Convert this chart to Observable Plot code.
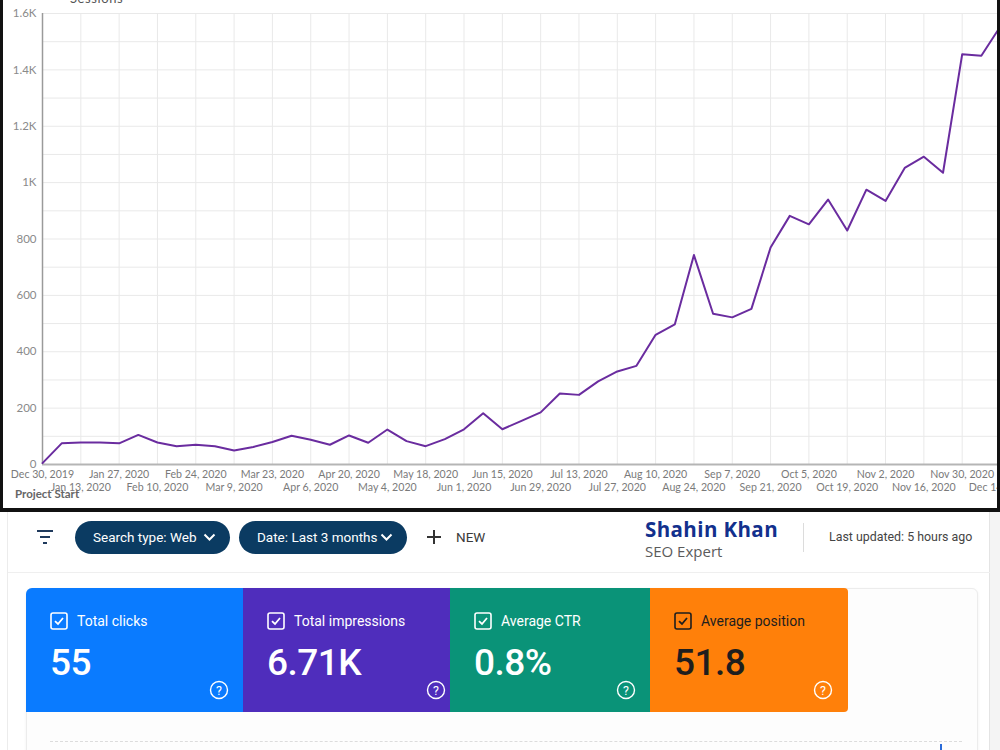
<!DOCTYPE html>
<html>
<head>
<meta charset="utf-8">
<script src="https://cdn.jsdelivr.net/npm/d3@7"></script>
<script src="https://cdn.jsdelivr.net/npm/@observablehq/plot@0.6"></script>
<style>
  html, body { margin: 0; padding: 0; background: #ffffff; }
  body { width: 1000px; height: 750px; overflow: hidden; position: relative; font-family: Roboto, "Noto Sans", sans-serif; }
  .abs { position: absolute; }
  #chartFrame { left: 0; top: 0; width: 1000px; height: 512px; overflow: hidden; background: #fff; }
  #chartFrame svg { position: absolute; left: 0; top: 0; max-width: none !important; }
  .pill { position: absolute; height: 33px; border-radius: 17px; background: #0b3b62; color: #fff; font-size: 13.5px; line-height: 33px; box-sizing: border-box; padding-left: 18px; }
  .pill svg { position: absolute; top: 12px; }
  .tile { position: absolute; top: 588px; height: 124px; color: #fff; }
  .tile .lbl { position: absolute; left: 51px; top: 24px; font-size: 14px; line-height: 18px; }
  .tile .val { position: absolute; left: 24px; top: 53px; font-size: 37px; font-weight: 500; line-height: 44px; letter-spacing: -0.5px; }
  .tile .cb { position: absolute; left: 24px; top: 24px; }
  .tile .help { position: absolute; top: 92px; }
</style>
</head>
<body>
<div id="chartFrame" class="abs">
  <div class="abs" style="left:70px; top:-10px; font-family: Lato, sans-serif; font-size:13px; letter-spacing:0.6px; color:#555;">Sessions</div>
  <div id="chart"></div>
  <div class="abs" style="left:15px; top:487px; font-family: Lato, sans-serif; font-weight:700; font-size:11.5px; color:#666;">Project Start</div>
</div>
<div class="abs" style="left:0; top:0; width:3px; height:512px; background:#111;"></div>
<div class="abs" style="left:997px; top:0; width:3px; height:512px; background:#111;"></div>
<div class="abs" style="left:0; top:508px; width:1000px; height:4px; background:#111;"></div>

<div id="dash"></div>

<script>
// ---- chart data ----
const weekStarts = [
  "2019-12-30","2020-01-06","2020-01-13","2020-01-20","2020-01-27","2020-02-03","2020-02-10","2020-02-17",
  "2020-02-24","2020-03-02","2020-03-09","2020-03-16","2020-03-23","2020-03-30","2020-04-06","2020-04-13",
  "2020-04-20","2020-04-27","2020-05-04","2020-05-11","2020-05-18","2020-05-25","2020-06-01","2020-06-08",
  "2020-06-15","2020-06-22","2020-06-29","2020-07-06","2020-07-13","2020-07-20","2020-07-27","2020-08-03",
  "2020-08-10","2020-08-17","2020-08-24","2020-08-31","2020-09-07","2020-09-14","2020-09-21","2020-09-28",
  "2020-10-05","2020-10-12","2020-10-19","2020-10-26","2020-11-02","2020-11-09","2020-11-16","2020-11-23",
  "2020-11-30","2020-12-07","2020-12-14"
];
const sessions = [
  5, 75, 78, 78, 75, 105, 78, 65,
  70, 65, 50, 62, 80, 102, 88, 70,
  103, 77, 124, 83, 65, 90, 125, 182,
  125, 155, 185, 252, 247, 295, 330, 350,
  460, 497, 743, 535, 522, 552, 770, 882,
  852, 940, 830, 975, 935, 1052, 1092, 1035,
  1455, 1450, 1555
];
const yTickValues = [0, 200, 400, 600, 800, 1000, 1200, 1400, 1600];
const xLabelRow1 = ["2019-12-30","2020-01-27","2020-02-24","2020-03-23","2020-04-20","2020-05-18","2020-06-15","2020-07-13","2020-08-10","2020-09-07","2020-10-05","2020-11-02","2020-11-30"];
const xLabelRow2 = ["2020-01-13","2020-02-10","2020-03-09","2020-04-06","2020-05-04","2020-06-01","2020-06-29","2020-07-27","2020-08-24","2020-09-21","2020-10-19","2020-11-16","2020-12-14"];

// ---- dashboard data ----
const filterPills = ["Search type: Web", "Date: Last 3 months"];
const metricLabels = ["Total clicks", "Total impressions", "Average CTR", "Average position"];
const metricValues = ["55", "6.71K", "0.8%", "51.8"];
const metricColors = ["#0a7bff", "#4f2dbc", "#0a9378", "#ff800a"];
const metricText = ["#ffffff", "#ffffff", "#ffffff", "#1e1e1e"];

const parse = d3.utcParse("%Y-%m-%d");
const data = weekStarts.map((w, i) => ({date: parse(w), value: sessions[i]}));
const row1 = xLabelRow1.map(parse);
const row2 = xLabelRow2.map(parse);
const gridDates = [...row1, ...row2];
const fmtDate = d3.utcFormat("%b %-d, %Y");
const fmtY = d => d >= 1000 ? (d / 1000) + "K" : String(d);

const chart = Plot.plot({
  width: 1045,
  height: 508,
  marginLeft: 42,
  marginRight: 45,
  marginTop: 13,
  marginBottom: 44,
  style: {fontFamily: "Lato, sans-serif", fontSize: "11px", color: "#7a7a7a", background: "transparent", maxWidth: "none"},
  x: {type: "utc", domain: [parse(weekStarts[0]), parse(weekStarts[weekStarts.length - 1])]},
  y: {domain: [0, 1600]},
  marks: [
    Plot.gridY({ticks: 16, stroke: "#e9e9e9", strokeOpacity: 1}),
    Plot.gridX(gridDates, {stroke: "#e9e9e9", strokeOpacity: 1}),
    Plot.ruleY([0], {stroke: "#b5b5b5", strokeWidth: 2}),
    Plot.ruleX([parse(weekStarts[0])], {stroke: "#9a9a9a", strokeWidth: 1.5}),
    Plot.line(data, {x: "date", y: "value", stroke: "#6a2c9f", strokeWidth: 2}),
    Plot.axisY(yTickValues, {tickSize: 0, tickPadding: 6, tickFormat: fmtY, fill: "#8a8a8a", fontSize: 11.5, label: null}),
    Plot.axisX(row1, {tickSize: 0, tickPadding: 6, tickFormat: fmtDate, fill: "#7a7a7a", fontSize: 10.6, label: null}),
    Plot.axisX(row2, {tickSize: 0, tickPadding: 6, dy: 13, tickFormat: fmtDate, fill: "#7a7a7a", fontSize: 10.6, label: null})
  ]
});
document.getElementById("chart").appendChild(chart);

// ---- dashboard ----
const dash = document.getElementById("dash");
function el(html) { dash.insertAdjacentHTML("beforeend", html); }

el(`<div class="abs" style="left:990px; top:512px; width:10px; height:238px; background:#f4f4f4;"></div>`);
el(`<div class="abs" style="left:7px; top:512px; width:983px; height:238px; background:#fff; border-left:1px solid #ececec; border-right:1px solid #e4e4e4; box-sizing:border-box;"></div>`);
el(`<div class="abs" style="left:8px; top:572px; width:982px; height:1px; background:#efefef;"></div>`);
// filter icon
el(`<svg class="abs" style="left:36px; top:529px;" width="18" height="16"><g stroke="#1f3a5c" stroke-width="2"><line x1="1" y1="2" x2="17" y2="2"/><line x1="4" y1="8" x2="14" y2="8"/><line x1="7" y1="14" x2="11" y2="14"/></g></svg>`);
// pills
const pillGeo = [[75, 155], [239, 168]];
filterPills.forEach((t, i) => {
  const [l, w] = pillGeo[i];
  el(`<div class="pill" style="left:${l}px; top:521px; width:${w}px;">${t}<svg style="left:${w - 27}px;" width="13" height="9"><polyline points="1.5,1.5 6.5,6.5 11.5,1.5" fill="none" stroke="#fff" stroke-width="2"/></svg></div>`);
});
el(`<svg class="abs" style="left:426px; top:529px;" width="16" height="16"><g stroke="#333" stroke-width="2"><line x1="8" y1="1" x2="8" y2="15"/><line x1="1" y1="8" x2="15" y2="8"/></g></svg>`);
el(`<div class="abs" style="left:456px; top:528px; font-size:13.5px; color:#3a3a3a; line-height:18px;">NEW</div>`);
el(`<div class="abs" style="left:645px; top:515px; font-family:'Open Sans', sans-serif; font-weight:700; font-size:20.5px; letter-spacing:0.4px; color:#12308d; line-height:28px;">Shahin Khan</div>`);
el(`<div class="abs" style="left:645px; top:541px; font-family:'Open Sans', sans-serif; font-size:15px; color:#5b5b5b; line-height:20px;">SEO Expert</div>`);
el(`<div class="abs" style="left:803px; top:523px; width:1px; height:29px; background:#dcdcdc;"></div>`);
el(`<div class="abs" style="left:829px; top:528px; font-size:12.4px; color:#444; line-height:18px;">Last updated: 5 hours ago</div>`);
// card
el(`<div class="abs" style="left:26px; top:588px; width:952px; height:175px; background:#fdfdfd; border:1px solid #ececec; border-radius:6px; box-shadow:0 1px 3px rgba(0,0,0,0.06); box-sizing:border-box;"></div>`);
el(`<div class="abs" style="left:50px; top:741px; width:912px; height:0; border-top:1px dashed #dcdcdc;"></div>`);
el(`<div class="abs" style="left:940px; top:744px; width:2px; height:8px; background:#2a6bd8;"></div>`);
// tiles
const tileGeo = [[26, 217], [243, 207], [450, 200], [650, 198]];
metricLabels.forEach((lab, i) => {
  const [l, w] = tileGeo[i];
  const tc = metricText[i];
  const radius = i === 0 ? "border-top-left-radius:6px;" : (i === 3 ? "border-top-right-radius:4px;border-bottom-right-radius:4px;" : "");
  el(`<div class="tile" style="left:${l}px; width:${w}px; background:${metricColors[i]}; color:${tc}; ${radius}">
    <svg class="cb" width="18" height="18"><rect x="1" y="1" width="16" height="16" rx="2" fill="none" stroke="${tc}" stroke-width="1.6"/><polyline points="5,9.2 8,12 13,6" fill="none" stroke="${tc}" stroke-width="1.8"/></svg>
    <div class="lbl">${lab}</div>
    <div class="val">${metricValues[i]}</div>
    <svg class="help" style="left:${i === 3 ? 163 : (i === 2 ? 166 : 183)}px;" width="20" height="20"><circle cx="10" cy="10" r="8.5" fill="none" stroke="#fff" stroke-width="1.4"/><text x="10" y="14.5" text-anchor="middle" font-size="12.5" font-family="Roboto, sans-serif" fill="#fff">?</text></svg>
  </div>`);
});
</script>
</body>
</html>
